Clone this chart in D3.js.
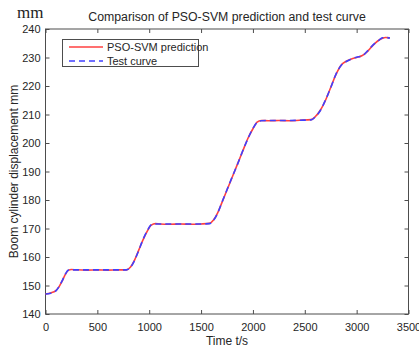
<!DOCTYPE html>
<html>
<head>
<meta charset="utf-8">
<script src="https://cdn.jsdelivr.net/npm/d3@7.9.0/dist/d3.min.js"></script>
<style>
  body { margin: 0; background: #fff; }
  svg { display: block; font-family: "Liberation Sans", Arial, sans-serif; }
</style>
</head>
<body>
<div id="chart"></div>
<script>
// time samples (s)
const times = [0, 50, 100, 130, 160, 190, 220, 250, 300, 400, 500, 600, 700, 780,
  820, 860, 900, 940, 980, 1020, 1060, 1100, 1200, 1300, 1400, 1500, 1580,
  1620, 1660, 1700, 1750, 1800, 1850, 1900, 1950, 2000, 2040, 2080, 2150, 2250,
  2350, 2450, 2560, 2600, 2650, 2700, 2750, 2800, 2850, 2900, 2950, 3000, 3050,
  3100, 3150, 3200, 3250, 3280, 3320];

// PSO-SVM prediction (mm)
const predicted = [147.0, 147.4, 148.2, 149.5, 151.5, 153.8, 155.3, 155.6, 155.5, 155.4, 155.5, 155.4, 155.5, 155.5,
  156.5, 159.0, 162.5, 166.0, 169.0, 171.2, 171.7, 171.6, 171.5, 171.6, 171.5, 171.6, 171.8,
  173.0, 175.5, 179.0, 183.5, 188.0, 192.5, 197.0, 201.5, 205.0, 207.3, 207.9, 207.8, 207.9,
  207.8, 208.0, 208.2, 209.2, 211.5, 215.0, 219.5, 224.0, 227.3, 228.7, 229.5, 230.0, 230.6,
  232.0, 234.0, 235.7, 236.8, 237.0, 236.9];

// test curve (mm)
const measured = [147.0, 147.3, 148.1, 149.6, 151.6, 153.9, 155.4, 155.5, 155.5, 155.5, 155.5, 155.5, 155.5, 155.5,
  156.4, 158.9, 162.4, 166.1, 169.1, 171.3, 171.6, 171.6, 171.6, 171.6, 171.6, 171.6, 171.7,
  172.9, 175.4, 179.1, 183.6, 188.1, 192.4, 197.1, 201.4, 205.1, 207.2, 207.8, 207.9, 207.9,
  207.9, 208.0, 208.1, 209.1, 211.4, 215.1, 219.4, 224.1, 227.2, 228.6, 229.5, 230.1, 230.5,
  232.1, 234.1, 235.6, 236.9, 237.0, 236.8];

const xTicks = [0, 500, 1000, 1500, 2000, 2500, 3000, 3500];
const yTicks = [140, 150, 160, 170, 180, 190, 200, 210, 220, 230, 240];

const width = 419, height = 350;
const plot = { left: 45.5, right: 408.5, top: 29, bottom: 314 };
const axisColor = '#4d4d4d';
const textColor = '#262626';

const svg = d3.select('#chart').append('svg')
  .attr('width', width).attr('height', height);

const x = d3.scaleLinear().domain([0, 3500]).range([plot.left, plot.right]);
const y = d3.scaleLinear().domain([140, 240]).range([plot.bottom, plot.top]);

// axes, ticks pointing inward on all four sides
function styleAxis(g) {
  g.select('.domain').remove();
  g.selectAll('.tick line').attr('stroke', axisColor);
  g.selectAll('.tick text').attr('fill', textColor).attr('font-size', 11);
}

svg.append('g').attr('transform', `translate(0,${plot.bottom})`)
  .call(d3.axisBottom(x).tickValues(xTicks).tickSize(-4).tickPadding(9).tickFormat(d3.format('d')))
  .call(styleAxis);
svg.append('g').attr('transform', `translate(${plot.left},0)`)
  .call(d3.axisLeft(y).tickValues(yTicks).tickSize(-4).tickPadding(5))
  .call(styleAxis);
svg.append('g').attr('transform', `translate(0,${plot.top})`)
  .call(d3.axisTop(x).tickValues(xTicks).tickSize(-4).tickFormat(''))
  .call(styleAxis);
svg.append('g').attr('transform', `translate(${plot.right},0)`)
  .call(d3.axisRight(y).tickValues(yTicks).tickSize(-4).tickFormat(''))
  .call(styleAxis);

svg.append('rect')
  .attr('x', plot.left).attr('y', plot.top)
  .attr('width', plot.right - plot.left).attr('height', plot.bottom - plot.top)
  .attr('fill', 'none').attr('stroke', axisColor).attr('stroke-width', 1);

// curves
const line = d3.line().curve(d3.curveMonotoneX);

svg.append('path')
  .attr('d', line(times.map((t, i) => [x(t), y(predicted[i])])))
  .attr('fill', 'none').attr('stroke', '#ff4040').attr('stroke-width', 1.6);

svg.append('path')
  .attr('d', line(times.map((t, i) => [x(t), y(measured[i])])))
  .attr('fill', 'none').attr('stroke', '#4040ff').attr('stroke-width', 1.6)
  .attr('stroke-dasharray', '6,4');

// legend
const legend = svg.append('g');
legend.append('rect')
  .attr('x', 62.5).attr('y', 39.5).attr('width', 136).attr('height', 27)
  .attr('fill', '#fff').attr('stroke', axisColor).attr('stroke-width', 1);
legend.append('line')
  .attr('x1', 69).attr('x2', 103).attr('y1', 47).attr('y2', 47)
  .attr('stroke', '#ff4040').attr('stroke-width', 1.6);
legend.append('line')
  .attr('x1', 69).attr('x2', 103).attr('y1', 61).attr('y2', 61)
  .attr('stroke', '#4040ff').attr('stroke-width', 1.6).attr('stroke-dasharray', '6,4');
legend.append('text').attr('x', 107).attr('y', 51)
  .attr('font-size', 11).attr('fill', textColor).text('PSO-SVM prediction');
legend.append('text').attr('x', 107).attr('y', 65)
  .attr('font-size', 11).attr('fill', textColor).text('Test curve');

// titles
svg.append('text').attr('x', 227).attr('y', 21)
  .attr('text-anchor', 'middle').attr('font-size', 12.3).attr('fill', textColor)
  .text('Comparison of PSO-SVM prediction and test curve');

svg.append('text').attr('x', 17).attr('y', 18)
  .attr('font-family', '"Liberation Serif", "DejaVu Serif", serif')
  .attr('font-size', 17).attr('fill', '#222').text('mm');

svg.append('text').attr('x', 227).attr('y', 345)
  .attr('text-anchor', 'middle').attr('font-size', 12).attr('fill', textColor)
  .text('Time t/s');

svg.append('text')
  .attr('transform', `translate(18,${(plot.top + plot.bottom) / 2}) rotate(-90)`)
  .attr('text-anchor', 'middle').attr('font-size', 12).attr('fill', textColor)
  .text('Boom cylinder displacement mm');
</script>
</body>
</html>
